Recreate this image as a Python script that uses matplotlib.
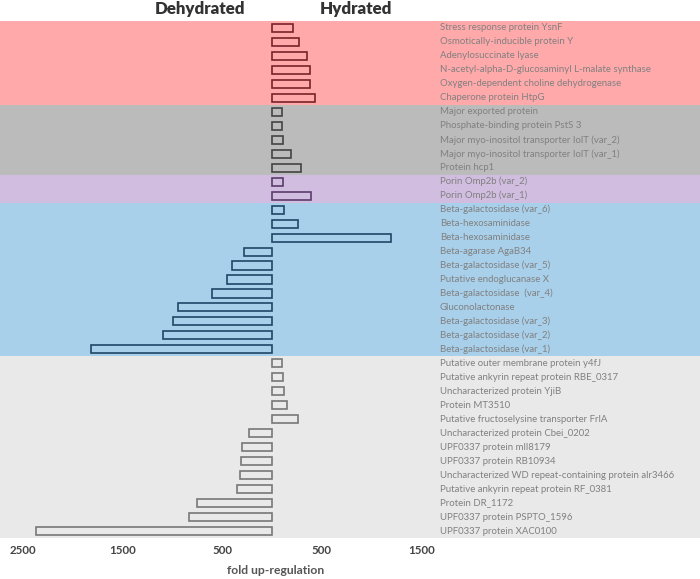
import matplotlib
matplotlib.use("Agg")
import matplotlib.pyplot as plt

plt.rcParams["font.family"] = ["Lato", "DejaVu Sans"]

# Protein names, top to bottom
proteins = [
    "Stress response protein YsnF",
    "Osmotically-inducible protein Y",
    "Adenylosuccinate lyase",
    "N-acetyl-alpha-D-glucosaminyl L-malate synthase",
    "Oxygen-dependent choline dehydrogenase",
    "Chaperone protein HtpG",
    "Major exported protein",
    "Phosphate-binding protein PstS 3",
    "Major myo-inositol transporter IolT (var_2)",
    "Major myo-inositol transporter IolT (var_1)",
    "Protein hcp1",
    "Porin Omp2b (var_2)",
    "Porin Omp2b (var_1)",
    "Beta-galactosidase (var_6)",
    "Beta-hexosaminidase",
    "Beta-hexosaminidase",
    "Beta-agarase AgaB34",
    "Beta-galactosidase (var_5)",
    "Putative endoglucanase X",
    "Beta-galactosidase  (var_4)",
    "Gluconolactonase",
    "Beta-galactosidase (var_3)",
    "Beta-galactosidase (var_2)",
    "Beta-galactosidase (var_1)",
    "Putative outer membrane protein y4fJ",
    "Putative ankyrin repeat protein RBE_0317",
    "Uncharacterized protein YjiB",
    "Protein MT3510",
    "Putative fructoselysine transporter FrlA",
    "Uncharacterized protein Cbei_0202",
    "UPF0337 protein mll8179",
    "UPF0337 protein RB10934",
    "Uncharacterized WD repeat-containing protein alr3466",
    "Putative ankyrin repeat protein RF_0381",
    "Protein DR_1172",
    "UPF0337 protein PSPTO_1596",
    "UPF0337 protein XAC0100",
]

# fold up-regulation; negative = dehydrated side
fold = [
    214, 271, 355, 382, 382, 429,
    100, 100, 107, 190, 290,
    108, 390,
    120, 260, 1200, -285, -400, -455, -605, -945, -990, -1100, -1815,
    97, 107, 117, 147, 258, -228, -298, -312, -322, -349, -757, -837, -2369,
]

# group sizes (rows), band colours and bar edge colours
group_sizes = [6, 5, 2, 11, 13]
band_colors = ["#ffa9ab", "#bbbbbb", "#d1bde0", "#a9d0ea", "#e9e9e9"]
edge_colors = ["#7a2228", "#444444", "#5c3c6c", "#1f4666", "#777777"]

tick_values = [-2500, -1500, -500, 500, 1500]
tick_labels = ["2500", "1500", "500", "500", "1500"]

W, H = 700, 579
fig = plt.figure(figsize=(W / 100, H / 100), dpi=100)

zero_px = 272
scale = 0.0995  # px per fold unit
top_px, bottom_px = 21, 538
ax = fig.add_axes([0, (H - bottom_px) / H, 1, (bottom_px - top_px) / H])
ax.set_xlim(-zero_px / scale, (W - zero_px) / scale)
n = len(proteins)
ax.set_ylim(n - 0.5, -0.5)

start = 0
bar_edges = []
for size, band, edge in zip(group_sizes, band_colors, edge_colors):
    ax.axhspan(start - 0.5, start + size - 0.5, color=band, lw=0, zorder=0)
    bar_edges += [edge] * size
    start += size

ax.barh(range(n), fold, height=0.58, left=0, facecolor="none",
        edgecolor=bar_edges, linewidth=1.2, zorder=2)

label_x = (440 - zero_px) / scale
for i, name in enumerate(proteins):
    ax.text(label_x, i, name, ha="left", va="center", fontsize=6.9,
            color="#808080", zorder=3)

ax.set_yticks([])
ax.set_xticks([])
for s in ax.spines.values():
    s.set_visible(False)

# bottom tick labels and axis title
for v, lab in zip(tick_values, tick_labels):
    px = zero_px + v * scale
    fig.text(px / W, 1 - 550 / H, lab, ha="center", va="center",
             fontsize=8.3, fontweight="bold", color="#444444")
fig.text(276 / W, 1 - 571 / H, "fold up-regulation", ha="center", va="center",
         fontsize=8.7, fontweight="bold", color="#555555")

fig.text(200 / W, 1 - 9 / H, "Dehydrated", ha="center", va="center",
         fontsize=12.2, fontweight="heavy", color="#333333")
fig.text(356 / W, 1 - 9 / H, "Hydrated", ha="center", va="center",
         fontsize=12.2, fontweight="heavy", color="#333333")

fig.savefig("out.png", dpi=100)
